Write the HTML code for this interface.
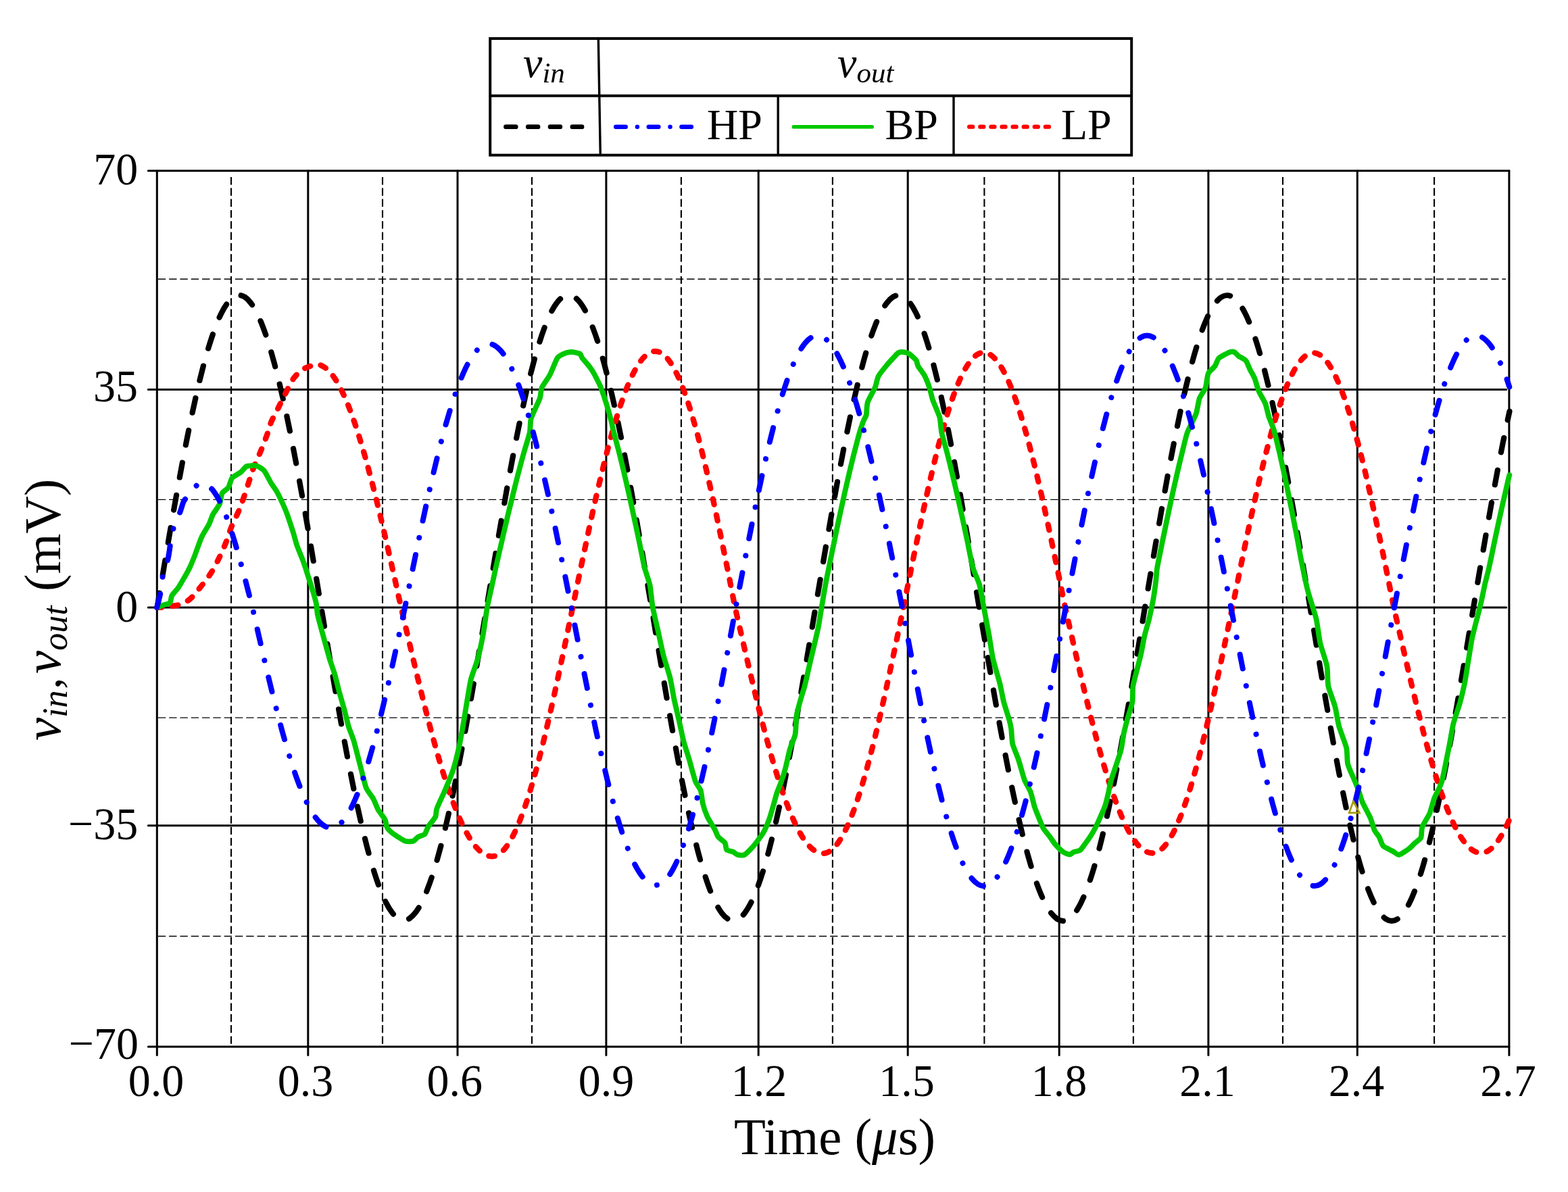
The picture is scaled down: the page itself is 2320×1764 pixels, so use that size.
<!DOCTYPE html>
<html lang="en"><head><meta charset="utf-8"><title>Filter transient response</title>
<style>html,body{margin:0;padding:0;background:#fff}body{width:2320px;height:1764px;overflow:hidden}svg{display:block}text{font-family:'Liberation Serif', 'DejaVu Serif', serif;fill:#000}</style>
</head><body>
<svg width="2320" height="1764" viewBox="0 0 2320 1764">
<rect width="2320" height="1764" fill="#fff"/>
<g stroke="#000" fill="none">
<line x1="342.0" y1="262.0" x2="342.0" y2="1547.9" stroke-width="2.1" stroke-dasharray="11.4 4.9"/>
<line x1="566.0" y1="262.0" x2="566.0" y2="1547.9" stroke-width="2.1" stroke-dasharray="11.4 4.9"/>
<line x1="787.0" y1="262.0" x2="787.0" y2="1547.9" stroke-width="2.1" stroke-dasharray="11.4 4.9"/>
<line x1="1007.9" y1="262.0" x2="1007.9" y2="1547.9" stroke-width="2.1" stroke-dasharray="11.4 4.9"/>
<line x1="1231.9" y1="262.0" x2="1231.9" y2="1547.9" stroke-width="2.1" stroke-dasharray="11.4 4.9"/>
<line x1="1456.4" y1="262.0" x2="1456.4" y2="1547.9" stroke-width="2.1" stroke-dasharray="11.4 4.9"/>
<line x1="1676.9" y1="262.0" x2="1676.9" y2="1547.9" stroke-width="2.1" stroke-dasharray="11.4 4.9"/>
<line x1="1898.0" y1="262.0" x2="1898.0" y2="1547.9" stroke-width="2.1" stroke-dasharray="11.4 4.9"/>
<line x1="2122.1" y1="262.0" x2="2122.1" y2="1547.9" stroke-width="2.1" stroke-dasharray="11.4 4.9"/>
<line x1="233.8" y1="413.0" x2="2228.0" y2="413.0" stroke-width="1.3" stroke-dasharray="11.4 4.9"/>
<line x1="233.8" y1="739.4" x2="2228.0" y2="739.4" stroke-width="1.3" stroke-dasharray="11.4 4.9"/>
<line x1="233.8" y1="1062.1" x2="2228.0" y2="1062.1" stroke-width="1.3" stroke-dasharray="11.4 4.9"/>
<line x1="233.8" y1="1385.5" x2="2228.0" y2="1385.5" stroke-width="1.3" stroke-dasharray="11.4 4.9"/>
<line x1="232.3" y1="252.7" x2="232.3" y2="1561.5" stroke-width="3" stroke-linecap="round"/>
<line x1="455.8" y1="252.7" x2="455.8" y2="1561.5" stroke-width="3" stroke-linecap="round"/>
<line x1="677.0" y1="252.7" x2="677.0" y2="1561.5" stroke-width="3" stroke-linecap="round"/>
<line x1="896.9" y1="252.7" x2="896.9" y2="1561.5" stroke-width="3" stroke-linecap="round"/>
<line x1="1122.2" y1="252.7" x2="1122.2" y2="1561.5" stroke-width="3" stroke-linecap="round"/>
<line x1="1343.2" y1="252.7" x2="1343.2" y2="1561.5" stroke-width="3" stroke-linecap="round"/>
<line x1="1567.2" y1="252.7" x2="1567.2" y2="1561.5" stroke-width="3" stroke-linecap="round"/>
<line x1="1787.9" y1="252.7" x2="1787.9" y2="1561.5" stroke-width="3" stroke-linecap="round"/>
<line x1="2008.3" y1="252.7" x2="2008.3" y2="1561.5" stroke-width="3" stroke-linecap="round"/>
<line x1="2232.9" y1="252.7" x2="2232.9" y2="1561.5" stroke-width="3" stroke-linecap="round"/>
<line x1="219.3" y1="252.7" x2="2232.9" y2="252.7" stroke-width="3" stroke-linecap="round"/>
<line x1="219.3" y1="576.4" x2="2228.7" y2="576.4" stroke-width="3" stroke-linecap="round"/>
<line x1="219.3" y1="899.0" x2="2228.7" y2="899.0" stroke-width="3" stroke-linecap="round"/>
<line x1="219.3" y1="1221.8" x2="2228.7" y2="1221.8" stroke-width="3" stroke-linecap="round"/>
<line x1="219.3" y1="1548.9" x2="2232.9" y2="1548.9" stroke-width="3" stroke-linecap="round"/>
</g>
<defs><clipPath id="cp"><rect x="225" y="240" width="2020" height="1320"/></clipPath></defs>
<g fill="none" stroke-linecap="round" stroke-linejoin="round" clip-path="url(#cp)">
<path d="M232.6 899.0C234.0 890.4 238.4 864.4 241.3 847.3C244.2 830.1 247.0 813.0 249.9 796.2C252.8 779.4 255.7 762.7 258.6 746.4C261.5 730.1 264.4 714.0 267.3 698.5C270.1 683.0 273.0 667.8 275.9 653.1C278.8 638.5 281.7 624.4 284.6 610.9C287.5 597.4 290.4 584.4 293.2 572.2C296.1 560.1 299.0 548.5 301.9 537.7C304.8 527.0 307.7 516.9 310.6 507.7C313.5 498.6 316.4 490.1 319.2 482.7C322.1 475.2 325.0 468.5 327.9 462.8C330.8 457.1 333.7 452.3 336.6 448.5C339.5 444.6 342.3 441.7 345.2 439.8C348.1 437.9 351.0 436.9 353.9 436.9C356.8 436.9 359.7 437.9 362.6 439.8C365.5 441.7 368.4 444.6 371.2 448.5C374.1 452.3 377.0 457.1 379.9 462.8C382.8 468.5 385.7 475.2 388.6 482.7C391.5 490.1 394.4 498.6 397.3 507.7C400.1 516.9 403.0 527.0 405.9 537.7C408.8 548.5 411.7 560.1 414.6 572.2C417.5 584.4 420.4 597.4 423.3 610.9C426.2 624.4 429.1 638.5 431.9 653.1C434.8 667.8 437.7 683.0 440.6 698.5C443.5 714.0 446.4 730.1 449.3 746.4C452.2 762.7 455.1 779.4 458.0 796.2C460.8 813.0 463.7 830.1 466.6 847.3C469.5 864.4 472.4 881.7 475.3 899.0C478.2 916.3 481.1 933.7 484.0 950.8C486.9 968.0 489.8 985.2 492.7 1002.0C495.6 1018.8 498.6 1035.6 501.5 1051.9C504.4 1068.2 507.3 1084.3 510.2 1099.8C513.1 1115.4 516.0 1130.6 518.9 1145.3C521.8 1159.9 524.7 1174.1 527.6 1187.6C530.5 1201.1 533.4 1214.1 536.4 1226.3C539.3 1238.5 542.2 1250.1 545.1 1260.9C548.0 1271.7 550.9 1281.8 553.8 1290.9C556.7 1300.1 559.6 1308.6 562.5 1316.1C565.4 1323.6 568.3 1330.2 571.2 1335.9C574.1 1341.6 577.0 1346.4 580.0 1350.3C582.9 1354.1 585.8 1357.1 588.7 1359.0C591.6 1360.9 594.5 1361.9 597.4 1361.9C600.3 1361.9 603.2 1360.9 606.2 1359.0C609.1 1357.1 612.0 1354.1 614.9 1350.3C617.8 1346.4 620.8 1341.6 623.7 1335.9C626.6 1330.2 629.5 1323.6 632.4 1316.1C635.3 1308.6 638.3 1300.1 641.2 1290.9C644.1 1281.8 647.0 1271.7 649.9 1260.9C652.9 1250.1 655.8 1238.5 658.7 1226.3C661.6 1214.1 664.5 1201.1 667.5 1187.6C670.4 1174.1 673.3 1159.9 676.2 1145.3C679.1 1130.6 682.1 1115.4 685.0 1099.8C687.9 1084.3 690.8 1068.2 693.7 1051.9C696.6 1035.6 699.6 1018.8 702.5 1002.0C705.4 985.2 708.3 968.0 711.2 950.8C714.2 933.7 717.1 916.3 720.0 899.0C722.9 881.7 725.8 864.4 728.6 847.2C731.5 830.1 734.4 812.9 737.3 796.1C740.2 779.3 743.1 762.6 746.0 746.3C748.8 730.0 751.7 714.0 754.6 698.4C757.5 682.9 760.4 667.7 763.2 653.0C766.1 638.4 769.0 624.3 771.9 610.8C774.8 597.3 777.7 584.3 780.5 572.1C783.4 559.9 786.3 548.3 789.2 537.6C792.1 526.8 795.0 516.7 797.9 507.6C800.7 498.4 803.6 490.0 806.5 482.5C809.4 475.0 812.3 468.3 815.1 462.6C818.0 456.9 820.9 452.1 823.8 448.3C826.7 444.5 829.6 441.5 832.5 439.6C835.3 437.7 838.2 436.7 841.1 436.7C844.0 436.7 847.0 437.7 849.9 439.6C852.8 441.5 855.7 444.5 858.7 448.3C861.6 452.1 864.5 456.9 867.4 462.6C870.4 468.3 873.3 475.0 876.2 482.5C879.1 490.0 882.1 498.4 885.0 507.6C887.9 516.7 890.8 526.8 893.8 537.6C896.7 548.3 899.6 559.9 902.5 572.1C905.5 584.3 908.4 597.3 911.3 610.8C914.3 624.3 917.2 638.4 920.1 653.0C923.0 667.7 926.0 682.9 928.9 698.4C931.8 714.0 934.7 730.0 937.7 746.3C940.6 762.6 943.5 779.3 946.4 796.1C949.4 812.9 952.3 830.1 955.2 847.2C958.1 864.4 961.1 881.7 964.0 899.0C966.9 916.3 969.8 933.7 972.6 950.9C975.5 968.1 978.4 985.2 981.3 1002.1C984.1 1019.0 987.0 1035.7 989.9 1052.0C992.8 1068.3 995.6 1084.4 998.5 1100.0C1001.4 1115.6 1004.3 1130.8 1007.1 1145.5C1010.0 1160.1 1012.9 1174.3 1015.8 1187.9C1018.6 1201.4 1021.5 1214.4 1024.4 1226.6C1027.3 1238.8 1030.2 1250.4 1033.0 1261.2C1035.9 1272.0 1038.8 1282.1 1041.7 1291.3C1044.5 1300.5 1047.4 1308.9 1050.3 1316.4C1053.2 1323.9 1056.0 1330.6 1058.9 1336.3C1061.8 1342.0 1064.7 1346.8 1067.5 1350.7C1070.4 1354.5 1073.3 1357.5 1076.2 1359.4C1079.0 1361.3 1081.9 1362.3 1084.8 1362.3C1087.7 1362.3 1090.6 1361.3 1093.5 1359.4C1096.4 1357.5 1099.3 1354.5 1102.2 1350.7C1105.1 1346.8 1108.0 1342.0 1110.9 1336.3C1113.8 1330.6 1116.7 1323.9 1119.6 1316.4C1122.5 1308.9 1125.4 1300.5 1128.3 1291.3C1131.2 1282.1 1134.1 1272.0 1137.0 1261.2C1139.9 1250.4 1142.8 1238.8 1145.7 1226.6C1148.6 1214.4 1151.5 1201.4 1154.4 1187.9C1157.3 1174.3 1160.2 1160.1 1163.1 1145.5C1166.0 1130.8 1168.9 1115.6 1171.8 1100.0C1174.7 1084.4 1177.6 1068.3 1180.5 1052.0C1183.4 1035.7 1186.3 1019.0 1189.2 1002.1C1192.1 985.2 1195.0 968.1 1197.9 950.9C1200.8 933.7 1203.7 916.3 1206.6 899.0C1209.5 881.7 1212.5 864.4 1215.4 847.3C1218.3 830.1 1221.2 813.0 1224.2 796.2C1227.1 779.4 1230.0 762.7 1233.0 746.4C1235.9 730.1 1238.8 714.0 1241.7 698.5C1244.7 683.0 1247.6 667.8 1250.5 653.1C1253.5 638.5 1256.4 624.4 1259.3 610.9C1262.2 597.4 1265.2 584.4 1268.1 572.2C1271.0 560.1 1274.0 548.5 1276.9 537.7C1279.8 527.0 1282.7 516.9 1285.7 507.7C1288.6 498.6 1291.5 490.1 1294.5 482.7C1297.4 475.2 1300.3 468.5 1303.2 462.8C1306.2 457.1 1309.1 452.3 1312.0 448.5C1315.0 444.6 1317.9 441.7 1320.8 439.8C1323.7 437.9 1326.7 436.9 1329.6 436.9C1332.5 436.9 1335.3 437.9 1338.1 439.8C1341.0 441.7 1343.8 444.6 1346.6 448.5C1349.5 452.3 1352.3 457.1 1355.1 462.8C1358.0 468.5 1360.8 475.2 1363.7 482.7C1366.5 490.1 1369.3 498.6 1372.2 507.7C1375.0 516.9 1377.8 527.0 1380.7 537.7C1383.5 548.5 1386.4 560.1 1389.2 572.2C1392.0 584.4 1394.9 597.4 1397.7 610.9C1400.6 624.4 1403.4 638.5 1406.2 653.1C1409.1 667.8 1411.9 683.0 1414.7 698.5C1417.6 714.0 1420.4 730.1 1423.3 746.4C1426.1 762.7 1428.9 779.4 1431.8 796.2C1434.6 813.0 1437.4 830.1 1440.3 847.3C1443.1 864.4 1445.9 881.7 1448.8 899.0C1451.7 916.3 1454.7 933.7 1457.7 950.9C1460.6 968.1 1463.6 985.3 1466.6 1002.2C1469.5 1019.1 1472.5 1035.9 1475.4 1052.2C1478.4 1068.6 1481.4 1084.7 1484.3 1100.3C1487.3 1115.9 1490.2 1131.1 1493.2 1145.8C1496.2 1160.5 1499.1 1174.7 1502.1 1188.2C1505.0 1201.8 1508.0 1214.8 1510.9 1227.0C1513.9 1239.3 1516.9 1250.9 1519.8 1261.7C1522.8 1272.5 1525.7 1282.6 1528.7 1291.8C1531.7 1301.0 1534.6 1309.4 1537.6 1317.0C1540.5 1324.5 1543.5 1331.1 1546.5 1336.9C1549.4 1342.6 1552.4 1347.4 1555.3 1351.3C1558.3 1355.1 1561.3 1358.0 1564.2 1360.0C1567.2 1361.9 1570.2 1362.9 1573.1 1362.9C1576.0 1362.9 1578.9 1361.9 1581.7 1360.0C1584.6 1358.0 1587.5 1355.1 1590.4 1351.3C1593.2 1347.4 1596.1 1342.6 1599.0 1336.9C1601.9 1331.1 1604.8 1324.5 1607.6 1317.0C1610.5 1309.4 1613.4 1301.0 1616.3 1291.8C1619.2 1282.6 1622.0 1272.5 1624.9 1261.7C1627.8 1250.9 1630.7 1239.3 1633.5 1227.0C1636.4 1214.8 1639.3 1201.8 1642.2 1188.2C1645.1 1174.7 1647.9 1160.5 1650.8 1145.8C1653.7 1131.1 1656.6 1115.9 1659.5 1100.3C1662.3 1084.7 1665.2 1068.6 1668.1 1052.2C1671.0 1035.9 1673.9 1019.1 1676.7 1002.2C1679.6 985.3 1682.5 968.1 1685.4 950.9C1688.2 933.7 1691.1 916.3 1694.0 899.0C1696.9 881.7 1699.8 864.4 1702.7 847.3C1705.6 830.1 1708.5 813.0 1711.4 796.2C1714.3 779.4 1717.2 762.7 1720.1 746.4C1723.0 730.1 1725.8 714.1 1728.7 698.5C1731.6 683.0 1734.5 667.8 1737.4 653.2C1740.3 638.6 1743.2 624.4 1746.1 610.9C1749.0 597.5 1751.9 584.5 1754.8 572.3C1757.7 560.1 1760.6 548.5 1763.5 537.8C1766.4 527.0 1769.3 517.0 1772.2 507.8C1775.1 498.6 1778.0 490.2 1780.9 482.8C1783.8 475.3 1786.6 468.6 1789.5 462.9C1792.4 457.2 1795.3 452.4 1798.2 448.6C1801.1 444.7 1804.0 441.8 1806.9 439.9C1809.8 438.0 1812.7 437.0 1815.6 437.0C1818.5 437.0 1821.5 438.0 1824.4 439.9C1827.3 441.8 1830.2 444.7 1833.2 448.6C1836.1 452.4 1839.0 457.2 1841.9 462.9C1844.9 468.6 1847.8 475.3 1850.7 482.8C1853.6 490.2 1856.6 498.6 1859.5 507.8C1862.4 517.0 1865.3 527.0 1868.3 537.8C1871.2 548.5 1874.1 560.1 1877.0 572.3C1880.0 584.5 1882.9 597.5 1885.8 610.9C1888.8 624.4 1891.7 638.6 1894.6 653.2C1897.5 667.8 1900.5 683.0 1903.4 698.5C1906.3 714.1 1909.2 730.1 1912.2 746.4C1915.1 762.7 1918.0 779.4 1920.9 796.2C1923.9 813.0 1926.8 830.1 1929.7 847.3C1932.6 864.4 1935.6 881.7 1938.5 899.0C1941.4 916.3 1944.2 933.7 1947.1 950.9C1950.0 968.1 1952.9 985.3 1955.7 1002.2C1958.6 1019.1 1961.5 1035.9 1964.4 1052.2C1967.2 1068.6 1970.1 1084.7 1973.0 1100.3C1975.9 1115.9 1978.7 1131.1 1981.6 1145.8C1984.5 1160.5 1987.4 1174.7 1990.2 1188.2C1993.1 1201.8 1996.0 1214.8 1998.8 1227.0C2001.7 1239.3 2004.6 1250.9 2007.5 1261.7C2010.3 1272.5 2013.2 1282.6 2016.1 1291.8C2019.0 1301.0 2021.8 1309.4 2024.7 1317.0C2027.6 1324.5 2030.5 1331.1 2033.3 1336.9C2036.2 1342.6 2039.1 1347.4 2042.0 1351.3C2044.8 1355.1 2047.7 1358.0 2050.6 1360.0C2053.5 1361.9 2056.3 1362.9 2059.2 1362.9C2062.1 1362.9 2065.0 1361.9 2067.8 1360.0C2070.7 1358.0 2073.6 1355.1 2076.5 1351.3C2079.3 1347.4 2082.2 1342.6 2085.1 1336.9C2088.0 1331.1 2090.9 1324.5 2093.7 1317.0C2096.6 1309.4 2099.5 1301.0 2102.4 1291.8C2105.3 1282.6 2108.1 1272.5 2111.0 1261.7C2113.9 1250.9 2116.8 1239.3 2119.6 1227.0C2122.5 1214.8 2125.4 1201.8 2128.3 1188.2C2131.2 1174.7 2134.0 1160.5 2136.9 1145.8C2139.8 1131.1 2142.7 1115.9 2145.6 1100.3C2148.4 1084.7 2151.3 1068.6 2154.2 1052.2C2157.1 1035.9 2159.9 1019.1 2162.8 1002.2C2165.7 985.3 2168.6 968.1 2171.5 950.9C2174.3 933.7 2177.2 916.2 2180.1 899.0C2183.0 881.8 2185.9 864.6 2188.8 847.6C2191.8 830.6 2194.7 813.6 2197.6 796.9C2200.5 780.2 2203.4 763.6 2206.3 747.4C2209.3 731.2 2212.2 715.3 2215.1 699.8C2218.0 684.4 2220.9 669.3 2223.8 654.8C2226.8 640.3 2231.0 620.3 2232.6 612.8C2234.2 605.3 2233.2 610.3 2233.3 609.7" stroke="#000" stroke-width="8.2" stroke-dasharray="22 26.89" stroke-dashoffset="0.35"/>
<path d="M232.2 898.8C233.4 898.8 236.0 899.0 239.3 898.8C242.6 898.5 247.9 897.8 252.1 897.2C256.4 896.5 260.2 896.7 265.0 894.9C269.8 893.1 275.7 891.0 281.1 886.5C286.4 882.1 291.9 874.8 297.1 868.2C302.4 861.7 307.9 854.8 312.6 847.3C317.3 839.8 321.7 831.0 325.4 823.2C329.2 815.5 332.2 808.1 335.1 800.7C338.0 793.3 339.7 786.4 342.8 778.9C345.8 771.4 350.4 762.9 353.4 755.7C356.4 748.5 358.3 743.0 360.8 735.8C363.3 728.6 366.3 719.2 368.5 712.3C370.8 705.5 371.4 702.1 374.3 694.6C377.2 687.1 382.4 675.9 385.9 667.3C389.3 658.8 392.6 650.3 395.2 643.2C397.7 636.1 398.4 631.3 401.2 624.7C403.9 618.1 407.8 611.4 411.8 603.5C415.7 595.7 420.8 585.1 424.7 577.6C428.6 570.2 431.2 564.1 435.3 558.8C439.4 553.5 443.9 549.1 449.4 545.9C454.9 542.7 463.7 540.3 468.4 539.6C473.1 538.9 474.4 540.4 477.3 541.9C480.3 543.4 483.3 545.6 486.3 548.6C489.2 551.6 492.2 555.3 495.2 559.8C498.2 564.2 501.2 569.4 504.1 575.2C507.1 581.0 510.1 587.6 513.1 594.7C516.1 601.8 519.0 609.6 522.0 618.0C525.0 626.4 528.0 635.4 531.0 644.9C533.9 654.4 536.9 664.4 539.9 674.9C542.9 685.4 545.8 696.4 548.8 707.8C551.8 719.1 554.8 731.0 557.8 743.1C560.7 755.1 563.7 767.6 566.7 780.3C569.7 793.0 572.6 805.9 575.6 819.0C578.6 832.1 581.6 845.4 584.6 858.8C587.5 872.1 590.4 885.4 593.5 899.0C596.6 912.6 599.9 926.6 603.1 940.2C606.3 953.9 609.5 967.6 612.7 981.0C615.9 994.4 619.1 1007.7 622.3 1020.6C625.5 1033.6 628.7 1046.4 631.9 1058.8C635.1 1071.2 638.3 1083.3 641.5 1094.9C644.7 1106.6 647.9 1117.9 651.1 1128.6C654.3 1139.4 657.5 1149.7 660.7 1159.4C663.9 1169.1 667.1 1178.4 670.3 1186.9C673.5 1195.5 676.7 1203.5 679.9 1210.8C683.1 1218.2 686.3 1224.9 689.5 1230.8C692.7 1236.8 695.9 1242.1 699.1 1246.6C702.3 1251.2 705.5 1255.0 708.7 1258.1C711.9 1261.1 715.1 1263.4 718.3 1265.0C721.5 1266.5 724.9 1267.3 727.9 1267.3C730.9 1267.3 733.6 1266.5 736.4 1265.0C739.3 1263.4 742.1 1261.1 745.0 1258.1C747.8 1255.0 750.6 1251.2 753.5 1246.6C756.3 1242.1 759.2 1236.8 762.0 1230.8C764.9 1224.9 767.7 1218.2 770.5 1210.8C773.4 1203.5 776.2 1195.5 779.1 1186.9C781.9 1178.4 784.8 1169.1 787.6 1159.4C790.4 1149.7 793.3 1139.4 796.1 1128.6C799.0 1117.9 801.8 1106.6 804.7 1094.9C807.5 1083.3 810.3 1071.2 813.2 1058.8C816.0 1046.4 818.9 1033.6 821.7 1020.6C824.6 1007.7 827.4 994.4 830.2 981.0C833.1 967.6 835.9 953.9 838.8 940.2C841.6 926.6 844.4 912.9 847.3 899.0C850.2 885.1 853.1 870.6 856.0 856.5C858.9 842.5 861.9 828.4 864.8 814.6C867.7 800.8 870.6 787.1 873.5 773.8C876.4 760.4 879.3 747.2 882.2 734.5C885.2 721.7 888.1 709.2 891.0 697.3C893.9 685.3 896.8 673.6 899.7 662.6C902.6 651.5 905.5 640.9 908.5 630.9C911.4 620.9 914.3 611.4 917.2 602.5C920.1 593.7 923.0 585.5 925.9 577.9C928.8 570.4 931.7 563.5 934.7 557.4C937.6 551.2 940.5 545.8 943.4 541.1C946.3 536.4 949.2 532.5 952.1 529.3C955.0 526.2 958.0 523.8 960.9 522.2C963.8 520.6 966.7 519.8 969.6 519.8C972.5 519.8 975.2 520.6 978.0 522.2C980.8 523.8 983.7 526.2 986.5 529.3C989.3 532.5 992.1 536.4 994.9 541.1C997.7 545.8 1000.5 551.2 1003.3 557.4C1006.2 563.5 1009.0 570.4 1011.8 577.9C1014.6 585.5 1017.4 593.7 1020.2 602.5C1023.0 611.4 1025.8 620.9 1028.7 630.9C1031.5 640.9 1034.3 651.5 1037.1 662.6C1039.9 673.6 1042.7 685.3 1045.5 697.3C1048.3 709.2 1051.1 721.7 1054.0 734.5C1056.8 747.2 1059.6 760.4 1062.4 773.8C1065.2 787.1 1068.0 800.8 1070.8 814.6C1073.6 828.4 1076.5 842.5 1079.3 856.5C1082.1 870.6 1084.7 885.1 1087.7 899.0C1090.7 912.9 1093.9 926.2 1097.0 939.7C1100.1 953.2 1103.2 966.7 1106.3 980.0C1109.4 993.2 1112.5 1006.4 1115.6 1019.2C1118.7 1032.0 1121.7 1044.7 1124.8 1056.9C1127.9 1069.1 1131.0 1081.1 1134.1 1092.6C1137.2 1104.1 1140.3 1115.3 1143.4 1125.9C1146.5 1136.5 1149.6 1146.7 1152.7 1156.3C1155.8 1165.9 1158.9 1175.0 1162.0 1183.5C1165.1 1192.0 1168.2 1199.9 1171.3 1207.1C1174.4 1214.3 1177.5 1221.0 1180.6 1226.9C1183.7 1232.8 1186.7 1238.0 1189.8 1242.5C1192.9 1247.0 1196.0 1250.8 1199.1 1253.8C1202.2 1256.8 1205.3 1259.1 1208.4 1260.6C1211.5 1262.1 1214.7 1262.9 1217.7 1262.9C1220.7 1262.9 1223.4 1262.1 1226.2 1260.6C1229.0 1259.1 1231.9 1256.8 1234.7 1253.8C1237.5 1250.8 1240.4 1247.0 1243.2 1242.5C1246.0 1238.0 1248.9 1232.8 1251.7 1226.9C1254.5 1221.0 1257.4 1214.3 1260.2 1207.1C1263.0 1199.9 1265.9 1192.0 1268.7 1183.5C1271.5 1175.0 1274.4 1165.9 1277.2 1156.3C1280.0 1146.7 1282.9 1136.5 1285.7 1125.9C1288.5 1115.3 1291.4 1104.1 1294.2 1092.6C1297.0 1081.1 1299.9 1069.1 1302.7 1056.9C1305.5 1044.7 1308.4 1032.0 1311.2 1019.2C1314.0 1006.4 1316.9 993.2 1319.7 980.0C1322.5 966.7 1325.4 953.2 1328.2 939.7C1331.0 926.2 1333.9 912.8 1336.7 899.0C1339.5 885.2 1342.3 870.7 1345.2 856.8C1348.0 842.8 1350.8 828.8 1353.6 815.0C1356.5 801.3 1359.3 787.7 1362.1 774.4C1364.9 761.1 1367.8 748.0 1370.6 735.3C1373.4 722.6 1376.2 710.2 1379.1 698.3C1381.9 686.3 1384.7 674.8 1387.5 663.8C1390.4 652.7 1393.2 642.2 1396.0 632.2C1398.8 622.3 1401.6 612.8 1404.5 604.0C1407.3 595.2 1410.1 587.0 1412.9 579.5C1415.8 572.0 1418.6 565.2 1421.4 559.1C1424.2 553.0 1427.1 547.5 1429.9 542.9C1432.7 538.2 1435.5 534.3 1438.4 531.2C1441.2 528.0 1444.0 525.6 1446.8 524.1C1449.7 522.5 1452.5 521.7 1455.3 521.7C1458.1 521.7 1461.1 522.5 1463.9 524.1C1466.8 525.6 1469.7 528.0 1472.6 531.2C1475.4 534.3 1478.3 538.2 1481.2 542.9C1484.1 547.5 1486.9 553.0 1489.8 559.1C1492.7 565.2 1495.6 572.0 1498.4 579.5C1501.3 587.0 1504.2 595.2 1507.1 604.0C1509.9 612.8 1512.8 622.3 1515.7 632.2C1518.6 642.2 1521.5 652.7 1524.3 663.8C1527.2 674.8 1530.1 686.3 1533.0 698.3C1535.8 710.2 1538.7 722.6 1541.6 735.3C1544.5 748.0 1547.3 761.1 1550.2 774.4C1553.1 787.7 1556.0 801.3 1558.8 815.0C1561.7 828.8 1564.6 842.8 1567.5 856.8C1570.3 870.7 1573.1 885.2 1576.1 899.0C1579.1 912.8 1582.2 926.2 1585.3 939.7C1588.4 953.2 1591.4 966.7 1594.5 979.9C1597.6 993.1 1600.7 1006.3 1603.7 1019.1C1606.8 1031.9 1609.9 1044.5 1612.9 1056.7C1616.0 1068.9 1619.1 1080.9 1622.1 1092.4C1625.2 1103.9 1628.3 1115.0 1631.3 1125.6C1634.4 1136.2 1637.5 1146.4 1640.5 1156.0C1643.6 1165.6 1646.7 1174.7 1649.8 1183.2C1652.8 1191.7 1655.9 1199.6 1659.0 1206.8C1662.0 1214.0 1665.1 1220.6 1668.2 1226.5C1671.2 1232.4 1674.3 1237.6 1677.4 1242.1C1680.4 1246.6 1683.5 1250.4 1686.6 1253.4C1689.7 1256.4 1692.7 1258.7 1695.8 1260.2C1698.9 1261.7 1702.1 1262.5 1705.0 1262.5C1707.9 1262.5 1710.6 1261.7 1713.5 1260.2C1716.3 1258.7 1719.1 1256.4 1721.9 1253.4C1724.7 1250.4 1727.6 1246.6 1730.4 1242.1C1733.2 1237.6 1736.0 1232.4 1738.8 1226.5C1741.6 1220.6 1744.5 1214.0 1747.3 1206.8C1750.1 1199.6 1752.9 1191.7 1755.7 1183.2C1758.6 1174.7 1761.4 1165.6 1764.2 1156.0C1767.0 1146.4 1769.8 1136.2 1772.7 1125.6C1775.5 1115.0 1778.3 1103.9 1781.1 1092.4C1783.9 1080.9 1786.8 1068.9 1789.6 1056.7C1792.4 1044.5 1795.2 1031.9 1798.0 1019.1C1800.8 1006.3 1803.7 993.1 1806.5 979.9C1809.3 966.7 1812.1 953.2 1814.9 939.7C1817.8 926.2 1820.6 912.8 1823.4 899.0C1826.2 885.2 1829.1 870.8 1832.0 856.8C1834.8 842.8 1837.7 828.9 1840.5 815.2C1843.4 801.4 1846.2 787.8 1849.1 774.6C1851.9 761.3 1854.8 748.2 1857.7 735.5C1860.5 722.8 1863.4 710.4 1866.2 698.5C1869.1 686.6 1871.9 675.1 1874.8 664.1C1877.6 653.1 1880.5 642.5 1883.3 632.6C1886.2 622.6 1889.1 613.2 1891.9 604.4C1894.8 595.6 1897.6 587.4 1900.5 580.0C1903.3 572.5 1906.2 565.6 1909.0 559.5C1911.9 553.4 1914.8 548.0 1917.6 543.3C1920.5 538.7 1923.3 534.8 1926.2 531.6C1929.0 528.5 1931.9 526.1 1934.7 524.6C1937.6 523.0 1940.5 522.2 1943.3 522.2C1946.1 522.2 1949.0 523.0 1951.8 524.6C1954.6 526.1 1957.5 528.5 1960.3 531.6C1963.1 534.8 1966.0 538.7 1968.8 543.3C1971.7 548.0 1974.5 553.4 1977.3 559.5C1980.2 565.6 1983.0 572.5 1985.8 580.0C1988.7 587.4 1991.5 595.6 1994.3 604.4C1997.2 613.2 2000.0 622.6 2002.8 632.6C2005.7 642.5 2008.5 653.1 2011.4 664.1C2014.2 675.1 2017.0 686.6 2019.9 698.5C2022.7 710.4 2025.5 722.8 2028.4 735.5C2031.2 748.2 2034.0 761.3 2036.9 774.6C2039.7 787.8 2042.5 801.4 2045.4 815.2C2048.2 828.9 2051.1 842.8 2053.9 856.8C2056.7 870.8 2059.4 885.2 2062.4 899.0C2065.4 912.8 2068.5 926.2 2071.6 939.7C2074.7 953.2 2077.7 966.6 2080.8 979.8C2083.9 993.1 2086.9 1006.2 2090.0 1019.0C2093.1 1031.8 2096.1 1044.4 2099.2 1056.6C2102.3 1068.8 2105.3 1080.8 2108.4 1092.3C2111.5 1103.8 2114.5 1114.9 2117.6 1125.5C2120.7 1136.1 2123.7 1146.3 2126.8 1155.9C2129.9 1165.5 2132.9 1174.6 2136.0 1183.0C2139.1 1191.5 2142.1 1199.4 2145.2 1206.6C2148.3 1213.8 2151.3 1220.4 2154.4 1226.3C2157.5 1232.2 2160.5 1237.4 2163.6 1241.9C2166.7 1246.4 2169.7 1250.2 2172.8 1253.2C2175.9 1256.2 2178.9 1258.5 2182.0 1260.0C2185.1 1261.5 2188.2 1262.3 2191.2 1262.3C2194.2 1262.3 2197.2 1261.5 2200.2 1260.0C2203.2 1258.5 2206.2 1256.2 2209.2 1253.2C2212.2 1250.2 2215.1 1246.4 2218.1 1241.9C2221.1 1237.4 2224.6 1231.2 2227.1 1226.3C2229.6 1221.5 2232.3 1215.0 2233.3 1212.7" stroke="#ff0000" stroke-width="8.3" stroke-dasharray="8.6 15.771" stroke-dashoffset="1.5"/>
<path d="M233.6 898.6C234.3 898.3 238.9 896.4 240.7 895.7C242.5 895.1 250.1 893.6 251.4 892.1C252.8 890.7 253.1 883.6 254.3 881.4C255.5 879.2 261.8 872.6 263.6 870.0C265.4 867.4 270.4 858.7 272.1 855.7C273.9 852.7 279.1 843.3 280.7 840.0C282.3 836.7 286.6 826.1 287.9 822.9C289.1 819.6 292.4 810.1 293.6 807.1C294.7 804.1 297.7 796.0 299.3 792.9C300.9 789.7 307.7 778.9 309.3 775.7C310.9 772.6 313.4 764.4 315.0 761.4C316.6 758.4 323.6 748.9 325.0 745.7C326.4 742.6 327.3 732.4 328.6 730.0C329.9 727.6 336.4 723.7 337.9 721.4C339.4 719.1 341.7 709.4 343.6 707.1C345.4 704.9 354.3 700.3 356.4 698.6C358.6 696.9 362.7 690.9 365.0 690.0C367.3 689.1 376.7 688.6 379.3 689.3C381.9 689.9 388.6 693.9 390.7 696.4C392.9 698.9 398.9 711.2 400.7 714.3C402.6 717.4 407.6 724.1 409.3 727.1C411.0 730.1 416.3 740.9 417.9 744.3C419.4 747.7 423.4 757.1 425.0 761.4C426.6 765.7 432.1 782.6 433.6 787.1C435.0 791.7 437.9 803.0 439.3 807.1C440.7 811.3 446.1 823.9 447.9 828.6C449.6 833.3 454.9 849.4 456.4 854.3C458.0 859.1 462.4 873.3 463.6 877.1C464.7 881.0 467.2 889.6 467.9 892.9C468.5 896.1 469.0 905.3 470.0 910.0C471.0 914.7 476.0 933.0 477.8 939.5C479.6 946.1 486.0 969.4 487.8 975.4C489.6 981.3 494.3 994.5 495.7 999.3C497.1 1004.0 500.3 1018.0 501.7 1023.2C503.1 1028.3 508.3 1045.9 509.7 1051.0C511.1 1056.2 514.3 1070.3 515.7 1074.9C517.0 1079.5 521.7 1090.3 523.6 1096.8C525.5 1103.3 533.0 1133.1 534.8 1140.0C536.6 1146.9 540.0 1161.6 541.8 1165.9C543.6 1170.2 551.0 1179.5 552.7 1182.8C554.5 1186.1 558.0 1195.7 559.7 1198.7C561.4 1201.7 568.4 1210.1 569.7 1212.7C571.0 1215.3 571.5 1222.5 572.7 1224.6C573.9 1226.7 578.9 1231.6 581.6 1233.6C584.3 1235.6 596.6 1243.6 599.5 1244.7C602.5 1245.8 609.6 1245.3 611.5 1244.7C613.4 1244.1 616.8 1239.6 618.5 1238.6C620.1 1237.5 626.9 1236.1 628.4 1234.6C629.9 1233.1 631.8 1226.2 633.4 1223.6C635.0 1221.0 643.0 1211.4 644.3 1208.7C645.6 1206.0 644.9 1200.6 646.3 1196.7C647.7 1192.9 655.9 1175.5 658.3 1169.9C660.7 1164.2 668.2 1146.3 670.2 1140.0C672.3 1133.7 677.4 1113.3 678.9 1106.8C680.4 1100.3 683.7 1081.7 684.9 1074.9C686.1 1068.2 689.7 1046.1 690.8 1039.1C692.0 1032.1 695.2 1011.6 696.8 1005.2C698.4 998.9 705.0 981.9 706.8 975.4C708.6 968.8 713.3 947.1 714.7 939.5C716.1 932.0 719.5 906.5 720.7 899.7C721.9 893.0 725.4 877.8 726.7 871.9C728.0 865.9 732.1 847.1 733.6 840.0C735.2 832.9 741.1 806.9 742.6 800.6C744.0 794.2 747.0 781.5 748.1 776.8C749.2 772.0 752.5 758.1 753.6 753.5C754.8 748.9 758.1 735.3 759.2 730.8C760.3 726.3 763.6 713.2 764.7 708.9C765.8 704.5 769.1 691.9 770.2 687.7C771.3 683.6 774.4 672.3 775.8 667.5C777.1 662.7 782.8 644.8 783.8 640.0C784.8 635.2 784.3 624.5 785.8 619.4C787.3 614.4 797.1 594.1 798.7 589.6C800.3 585.0 800.2 577.1 801.7 573.6C803.2 570.1 811.4 559.1 813.6 554.7C815.9 550.3 822.6 532.9 824.6 529.8C826.6 526.7 831.8 524.7 833.6 523.8C835.3 523.0 841.0 521.3 842.5 521.1C844.0 520.8 846.9 520.8 848.5 521.1C850.1 521.3 857.2 523.0 858.4 523.8C859.7 524.7 860.0 527.9 861.4 529.8C862.8 531.7 870.6 540.4 872.4 542.8C874.2 545.2 877.8 550.8 879.4 553.7C880.9 556.6 886.9 568.4 888.3 571.6C889.7 574.8 892.2 582.3 893.3 585.6C894.4 588.9 898.2 600.8 899.3 604.5C900.4 608.2 903.3 618.9 904.2 622.4C905.1 626.0 907.1 635.5 908.2 640.0C909.3 644.5 914.3 662.7 915.5 667.5C916.7 672.3 919.5 683.6 920.5 687.7C921.5 691.9 924.5 704.5 925.5 708.9C926.5 713.2 929.5 726.3 930.5 730.8C931.5 735.3 934.5 748.9 935.5 753.5C936.5 758.1 939.5 772.0 940.5 776.8C941.5 781.5 944.2 794.2 945.6 800.6C946.9 806.9 952.1 833.5 953.7 840.0C955.3 846.5 960.4 860.1 961.6 865.9C962.8 871.7 964.4 891.0 965.6 897.7C966.8 904.5 972.0 926.4 973.6 933.6C975.2 940.7 979.7 962.4 981.5 969.4C983.3 976.4 989.9 996.7 991.5 1003.2C993.1 1009.8 996.2 1028.9 997.5 1035.1C998.8 1041.3 1003.0 1058.8 1004.4 1065.0C1005.8 1071.1 1009.9 1091.0 1011.4 1096.8C1012.9 1102.6 1017.6 1116.8 1019.4 1122.7C1021.1 1128.6 1027.1 1151.3 1028.8 1156.0C1030.5 1160.7 1035.7 1166.7 1036.8 1169.9C1037.9 1173.2 1038.8 1185.0 1039.8 1188.9C1040.7 1192.7 1044.9 1204.9 1046.7 1208.8C1048.5 1212.6 1056.1 1224.7 1057.7 1227.7C1059.3 1230.7 1061.2 1236.7 1062.7 1238.6C1064.1 1240.6 1071.4 1245.2 1072.6 1247.1C1073.9 1249.0 1073.9 1256.2 1075.1 1257.5C1076.3 1258.9 1082.9 1259.8 1084.6 1260.5C1086.2 1261.3 1089.8 1264.6 1091.5 1265.0C1093.2 1265.5 1099.2 1266.3 1101.5 1265.0C1103.8 1263.8 1112.1 1255.1 1114.4 1252.6C1116.7 1250.0 1122.7 1242.0 1124.4 1239.6C1126.1 1237.2 1129.9 1231.5 1131.3 1228.7C1132.7 1225.9 1137.0 1215.4 1138.3 1211.7C1139.6 1208.1 1143.2 1195.6 1144.3 1191.8C1145.4 1188.1 1148.1 1177.5 1149.3 1173.9C1150.5 1170.3 1154.9 1159.9 1156.2 1156.0C1157.6 1152.1 1161.5 1139.4 1162.7 1134.6C1163.9 1129.9 1167.3 1113.5 1168.7 1108.8C1170.1 1104.0 1175.6 1091.8 1176.6 1086.9C1177.6 1081.9 1177.8 1064.2 1178.6 1059.0C1179.4 1053.8 1183.4 1039.5 1184.6 1035.1C1185.8 1030.7 1189.4 1019.8 1190.6 1015.2C1191.8 1010.6 1195.2 995.3 1196.5 989.3C1197.9 983.3 1203.1 961.4 1204.5 955.5C1205.9 949.5 1209.3 935.8 1210.5 929.6C1211.7 923.4 1215.3 900.7 1216.5 893.8C1217.6 886.8 1221.4 865.3 1222.4 859.9C1223.4 854.5 1225.2 845.9 1226.4 840.0C1227.6 834.1 1233.1 807.1 1234.5 800.8C1235.8 794.5 1238.4 781.7 1239.4 777.0C1240.4 772.3 1243.4 758.4 1244.4 753.8C1245.4 749.2 1248.4 735.6 1249.4 731.2C1250.4 726.7 1253.4 713.6 1254.4 709.3C1255.4 705.0 1258.4 692.3 1259.4 688.2C1260.4 684.1 1263.1 672.9 1264.4 668.0C1265.6 663.2 1270.5 644.6 1271.8 640.0C1273.1 635.5 1276.8 625.0 1277.8 622.4C1278.8 619.8 1281.1 617.1 1281.7 614.4C1282.3 611.8 1282.4 599.6 1283.7 595.5C1285.0 591.4 1293.1 577.5 1294.7 573.6C1296.3 569.7 1297.9 560.1 1299.7 556.7C1301.5 553.3 1310.3 542.6 1312.6 539.8C1314.9 537.0 1320.9 530.6 1322.6 528.8C1324.3 527.0 1328.0 522.6 1329.5 521.9C1331.0 521.1 1335.9 520.9 1337.5 521.1C1339.1 521.3 1343.7 522.7 1345.5 523.8C1347.2 525.0 1354.1 531.0 1355.4 532.8C1356.7 534.6 1357.2 539.6 1358.4 541.8C1359.6 544.0 1366.0 552.3 1367.4 554.7C1368.8 557.1 1371.4 563.4 1372.3 565.7C1373.2 567.9 1375.5 574.9 1376.3 577.6C1377.1 580.3 1378.9 588.6 1380.3 592.5C1381.7 596.5 1389.0 612.7 1390.3 617.4C1391.6 622.2 1392.2 635.0 1393.2 640.0C1394.3 645.1 1399.5 663.2 1400.8 668.0C1402.1 672.9 1404.9 684.1 1405.9 688.2C1406.9 692.3 1409.9 705.0 1410.9 709.3C1412.0 713.6 1415.0 726.7 1416.0 731.2C1417.0 735.6 1420.1 749.2 1421.1 753.8C1422.1 758.4 1425.2 772.3 1426.2 777.0C1427.2 781.7 1429.9 794.5 1431.3 800.8C1432.6 807.1 1437.6 833.5 1439.5 840.0C1441.3 846.5 1447.8 860.1 1449.4 865.9C1451.0 871.7 1454.0 890.4 1455.4 897.7C1456.8 905.1 1461.9 931.8 1463.3 939.5C1464.7 947.3 1467.7 968.2 1469.3 975.4C1470.9 982.5 1477.7 1004.8 1479.3 1011.2C1480.9 1017.6 1483.8 1033.7 1485.2 1039.1C1486.6 1044.5 1492.1 1061.0 1493.2 1065.0C1494.3 1068.9 1495.7 1075.3 1496.2 1078.9C1496.7 1082.5 1497.1 1096.2 1498.2 1100.8C1499.3 1105.4 1505.4 1119.4 1507.1 1124.7C1508.9 1130.0 1514.0 1149.3 1515.8 1154.0C1517.6 1158.7 1523.3 1167.9 1524.8 1171.9C1526.3 1175.9 1529.5 1189.8 1530.7 1193.8C1532.0 1197.8 1536.4 1208.6 1537.7 1211.7C1539.0 1214.9 1542.1 1223.0 1543.7 1225.7C1545.3 1228.4 1551.9 1236.3 1553.6 1238.6C1555.3 1240.9 1558.7 1246.4 1560.6 1248.6C1562.5 1250.8 1570.4 1258.9 1572.6 1260.5C1574.7 1262.1 1580.9 1264.7 1582.5 1264.7C1584.1 1264.8 1586.9 1261.7 1588.5 1261.0C1590.1 1260.4 1596.6 1259.4 1598.4 1258.0C1600.2 1256.7 1604.9 1249.6 1606.4 1247.6C1607.9 1245.5 1612.0 1239.8 1613.4 1237.6C1614.8 1235.4 1618.9 1228.4 1620.3 1225.7C1621.7 1223.0 1625.8 1214.1 1627.3 1210.7C1628.8 1207.4 1634.0 1195.7 1635.3 1191.8C1636.6 1187.9 1639.4 1175.7 1640.3 1171.9C1641.1 1168.1 1642.4 1160.1 1644.2 1154.0C1646.1 1147.9 1656.6 1117.5 1658.4 1110.8C1660.3 1104.0 1661.4 1091.6 1662.4 1086.9C1663.4 1082.1 1667.1 1067.8 1668.4 1063.0C1669.7 1058.2 1674.6 1043.9 1675.4 1039.1C1676.2 1034.3 1675.7 1020.0 1676.4 1015.2C1677.1 1010.4 1681.1 996.1 1682.3 991.3C1683.5 986.5 1687.2 972.4 1688.3 967.4C1689.4 962.4 1692.1 946.7 1693.3 941.5C1694.5 936.4 1699.0 921.0 1700.3 915.7C1701.5 910.3 1705.2 893.4 1706.2 887.8C1707.2 882.2 1709.6 864.7 1710.2 859.9C1710.8 855.1 1711.2 845.9 1712.2 840.0C1713.2 834.1 1718.8 807.4 1720.0 801.1C1721.3 794.9 1723.9 782.1 1724.9 777.4C1725.9 772.7 1728.8 758.8 1729.8 754.3C1730.8 749.7 1733.7 736.2 1734.7 731.7C1735.6 727.3 1738.6 714.2 1739.6 709.9C1740.5 705.6 1743.5 693.0 1744.4 688.9C1745.4 684.8 1748.1 673.7 1749.3 668.8C1750.5 663.9 1754.7 645.7 1756.8 640.0C1758.8 634.4 1767.9 617.5 1769.7 612.4C1771.5 607.4 1773.3 593.4 1774.7 589.6C1776.1 585.7 1782.4 577.3 1783.7 573.6C1785.0 569.9 1786.3 555.9 1787.7 552.7C1789.0 549.5 1796.0 544.1 1797.6 541.8C1799.2 539.5 1801.4 531.9 1803.6 529.8C1805.8 527.8 1817.2 521.9 1819.5 521.1C1821.8 520.2 1825.2 520.5 1826.5 521.1C1827.8 521.6 1830.8 525.6 1832.4 526.8C1834.1 528.1 1841.7 531.8 1843.4 533.8C1845.1 535.8 1848.1 544.2 1849.4 546.7C1850.7 549.3 1855.2 557.1 1856.3 559.7C1857.4 562.3 1859.6 570.5 1860.3 572.6C1861.0 574.7 1862.1 578.1 1863.3 580.6C1864.5 583.1 1870.9 593.9 1872.3 597.5C1873.7 601.1 1876.0 612.4 1877.2 616.4C1878.5 620.4 1883.7 632.1 1885.2 637.3C1886.8 642.6 1891.6 663.6 1892.9 668.8C1894.1 673.9 1896.5 684.8 1897.4 688.9C1898.3 693.0 1901.0 705.6 1902.0 709.9C1902.9 714.2 1905.6 727.3 1906.5 731.7C1907.4 736.2 1910.1 749.7 1911.1 754.3C1912.0 758.8 1914.7 772.7 1915.6 777.4C1916.5 782.1 1919.0 794.9 1920.2 801.1C1921.3 807.4 1925.9 832.5 1927.5 840.0C1929.0 847.5 1933.4 868.3 1935.4 875.8C1937.4 883.4 1945.6 908.1 1947.4 915.7C1949.2 923.2 1951.7 944.5 1953.3 951.5C1954.9 958.5 1962.1 979.0 1963.3 985.3C1964.5 991.7 1964.1 1009.2 1965.3 1015.2C1966.5 1021.2 1973.6 1039.1 1975.2 1045.1C1976.8 1051.0 1979.5 1068.7 1981.2 1074.9C1982.9 1081.1 1990.9 1101.2 1992.2 1106.8C1993.5 1112.3 1993.0 1125.9 1994.2 1130.7C1995.3 1135.4 2002.2 1150.2 2003.8 1154.0C2005.4 1157.8 2008.6 1165.6 2009.8 1168.9C2011.0 1172.2 2014.0 1182.7 2015.7 1186.9C2017.5 1191.0 2025.9 1206.6 2027.7 1210.7C2029.5 1214.9 2032.4 1225.9 2033.7 1228.7C2035.0 1231.5 2039.3 1236.3 2040.6 1238.6C2041.9 1241.0 2044.6 1250.0 2046.6 1252.1C2048.6 1254.1 2058.2 1258.2 2060.5 1259.5C2062.9 1260.8 2067.5 1265.4 2070.0 1265.0C2072.5 1264.6 2083.1 1257.3 2085.4 1255.5C2087.8 1253.8 2091.7 1249.2 2093.4 1247.6C2095.1 1246.0 2101.3 1242.0 2102.4 1239.6C2103.5 1237.2 2103.1 1227.3 2104.4 1223.7C2105.6 1220.1 2113.5 1208.1 2115.3 1203.8C2117.1 1199.5 2120.5 1185.6 2122.3 1180.9C2124.1 1176.2 2131.0 1164.8 2133.2 1157.0C2135.4 1149.2 2142.7 1111.4 2144.5 1102.8C2146.2 1094.2 2148.8 1077.3 2150.4 1070.9C2152.0 1064.6 2158.7 1045.3 2160.4 1039.1C2162.1 1032.9 2166.2 1015.2 2167.4 1009.2C2168.6 1003.2 2171.2 985.9 2172.3 979.4C2173.4 972.8 2176.9 950.3 2178.3 943.5C2179.7 936.8 2184.9 917.2 2186.3 911.7C2187.7 906.1 2191.1 892.6 2192.2 887.8C2193.3 883.0 2196.1 868.7 2197.2 863.9C2198.3 859.1 2201.8 846.3 2203.2 840.0C2204.6 833.7 2210.0 807.6 2211.3 801.3C2212.6 795.1 2215.3 782.4 2216.3 777.7C2217.4 773.0 2220.4 759.2 2221.4 754.6C2222.4 750.1 2225.4 736.6 2226.5 732.1C2227.5 727.7 2230.8 713.3 2231.5 710.4C2232.2 707.4 2233.1 703.7 2233.3 703.0" stroke="#00c800" stroke-width="7.8"/>
<path d="M232.2 898.8C233.1 895.0 236.2 884.0 237.7 876.3C239.1 868.5 239.1 860.2 240.9 852.2C242.7 844.1 246.4 835.8 248.3 828.0C250.2 820.3 250.7 813.5 252.1 805.5C253.6 797.6 254.6 788.5 257.0 780.5C259.4 772.4 264.2 763.6 266.6 757.3C269.0 751.1 269.7 746.6 271.4 742.9C273.2 739.1 273.9 738.9 277.2 734.8C280.5 730.7 287.5 721.1 291.4 718.1C295.2 715.1 297.9 716.7 300.3 716.6C302.7 716.5 303.8 717.0 305.5 717.7C307.3 718.5 309.0 719.7 310.7 721.2C312.5 722.7 314.2 724.6 316.0 726.8C317.7 729.1 319.4 731.7 321.2 734.7C322.9 737.6 324.7 740.9 326.4 744.6C328.1 748.2 329.9 752.1 331.6 756.4C333.4 760.6 335.1 765.2 336.9 770.0C338.6 774.8 340.3 780.0 342.1 785.3C343.8 790.6 345.6 796.2 347.3 802.0C349.0 807.7 350.8 813.7 352.5 819.9C354.3 826.0 356.0 832.3 357.7 838.8C359.5 845.2 361.2 851.8 363.0 858.4C364.7 865.0 366.4 871.8 368.2 878.6C369.9 885.3 371.1 889.5 373.4 899.0C375.7 908.5 378.9 923.4 381.7 935.5C384.5 947.6 387.3 959.7 390.0 971.6C392.8 983.5 395.6 995.2 398.3 1006.7C401.1 1018.2 403.9 1029.6 406.7 1040.5C409.4 1051.5 412.2 1062.2 415.0 1072.5C417.7 1082.9 420.5 1092.9 423.3 1102.4C426.1 1111.9 428.8 1121.0 431.6 1129.7C434.4 1138.3 437.1 1146.4 439.9 1154.0C442.7 1161.6 445.5 1168.7 448.2 1175.2C451.0 1181.7 453.8 1187.6 456.5 1192.9C459.3 1198.2 462.1 1202.9 464.9 1206.9C467.6 1210.9 470.4 1214.3 473.2 1217.0C475.9 1219.7 478.7 1221.8 481.5 1223.1C484.3 1224.5 487.1 1225.2 489.8 1225.2C492.5 1225.2 495.0 1224.5 497.6 1223.1C500.2 1221.8 502.8 1219.7 505.4 1217.0C508.0 1214.3 510.6 1210.9 513.2 1206.9C515.8 1202.9 518.4 1198.2 521.0 1192.9C523.6 1187.6 526.2 1181.7 528.8 1175.2C531.4 1168.7 534.0 1161.6 536.6 1154.0C539.2 1146.4 541.8 1138.3 544.5 1129.7C547.1 1121.0 549.7 1111.9 552.3 1102.4C554.9 1092.9 557.5 1082.9 560.1 1072.5C562.7 1062.2 565.3 1051.5 567.9 1040.5C570.5 1029.6 573.1 1018.2 575.7 1006.7C578.3 995.2 580.9 983.5 583.5 971.6C586.1 959.7 588.7 947.6 591.3 935.5C593.9 923.4 596.3 912.4 599.1 899.0C601.9 885.6 605.0 869.8 608.0 855.3C610.9 840.8 613.9 826.4 616.8 812.2C619.8 798.0 622.7 783.9 625.7 770.1C628.6 756.4 631.6 742.8 634.5 729.7C637.5 716.6 640.4 703.7 643.4 691.4C646.3 679.1 649.3 667.1 652.2 655.7C655.2 644.3 658.1 633.4 661.1 623.1C664.1 612.8 667.0 603.0 670.0 593.9C672.9 584.8 675.9 576.4 678.8 568.6C681.8 560.9 684.7 553.8 687.7 547.4C690.6 541.1 693.6 535.5 696.5 530.7C699.5 525.9 702.4 521.8 705.4 518.6C708.3 515.3 711.3 512.9 714.2 511.3C717.2 509.6 720.2 508.8 723.1 508.8C726.0 508.8 728.9 509.6 731.8 511.3C734.7 512.9 737.7 515.3 740.6 518.6C743.5 521.8 746.4 525.9 749.3 530.7C752.2 535.5 755.1 541.1 758.0 547.4C761.0 553.8 763.9 560.9 766.8 568.6C769.7 576.4 772.6 584.8 775.5 593.9C778.4 603.0 781.3 612.8 784.2 623.1C787.2 633.4 790.1 644.3 793.0 655.7C795.9 667.1 798.8 679.1 801.7 691.4C804.6 703.7 807.5 716.6 810.5 729.7C813.4 742.8 816.3 756.4 819.2 770.1C822.1 783.9 825.0 798.0 827.9 812.2C830.8 826.4 833.8 840.8 836.7 855.3C839.6 869.8 842.5 884.1 845.4 899.0C848.3 913.9 851.3 929.8 854.3 945.0C857.3 960.2 860.2 975.5 863.2 990.4C866.2 1005.4 869.2 1020.2 872.1 1034.7C875.1 1049.1 878.1 1063.4 881.0 1077.2C884.0 1091.1 887.0 1104.6 889.9 1117.6C892.9 1130.5 895.9 1143.1 898.8 1155.1C901.8 1167.1 904.8 1178.6 907.8 1189.5C910.7 1200.3 913.7 1210.6 916.7 1220.2C919.6 1229.7 922.6 1238.7 925.6 1246.8C928.5 1255.0 931.5 1262.5 934.5 1269.1C937.4 1275.8 940.4 1281.7 943.4 1286.7C946.3 1291.8 949.3 1296.1 952.3 1299.5C955.3 1302.9 958.2 1305.5 961.2 1307.2C964.2 1308.9 967.2 1309.8 970.1 1309.8C973.0 1309.8 975.7 1308.9 978.6 1307.2C981.4 1305.5 984.2 1302.9 987.0 1299.5C989.9 1296.1 992.7 1291.8 995.5 1286.7C998.3 1281.7 1001.1 1275.8 1004.0 1269.1C1006.8 1262.5 1009.6 1255.0 1012.4 1246.8C1015.2 1238.7 1018.1 1229.7 1020.9 1220.2C1023.7 1210.6 1026.5 1200.3 1029.3 1189.5C1032.2 1178.6 1035.0 1167.1 1037.8 1155.1C1040.6 1143.1 1043.5 1130.5 1046.3 1117.6C1049.1 1104.6 1051.9 1091.1 1054.7 1077.2C1057.6 1063.4 1060.4 1049.1 1063.2 1034.7C1066.0 1020.2 1068.8 1005.4 1071.7 990.4C1074.5 975.5 1077.3 960.2 1080.1 945.0C1083.0 929.8 1085.8 914.2 1088.6 899.0C1091.4 883.8 1094.3 868.9 1097.2 854.0C1100.1 839.1 1103.0 824.1 1105.8 809.5C1108.7 794.9 1111.6 780.3 1114.4 766.2C1117.3 752.0 1120.2 738.0 1123.1 724.5C1125.9 711.0 1128.8 697.7 1131.7 685.0C1134.5 672.3 1137.4 660.0 1140.3 648.2C1143.2 636.5 1146.0 625.2 1148.9 614.6C1151.8 604.0 1154.6 593.9 1157.5 584.5C1160.4 575.2 1163.3 566.4 1166.1 558.4C1169.0 550.5 1171.9 543.1 1174.7 536.6C1177.6 530.1 1180.5 524.3 1183.4 519.4C1186.2 514.4 1189.1 510.2 1192.0 506.9C1194.8 503.5 1197.7 501.0 1200.6 499.3C1203.5 497.6 1206.3 496.8 1209.2 496.8C1212.1 496.8 1215.2 497.6 1218.2 499.3C1221.2 501.0 1224.2 503.5 1227.2 506.9C1230.2 510.2 1233.1 514.4 1236.1 519.4C1239.1 524.3 1242.1 530.1 1245.1 536.6C1248.1 543.1 1251.1 550.5 1254.1 558.4C1257.1 566.4 1260.1 575.2 1263.1 584.5C1266.1 593.9 1269.1 604.0 1272.1 614.6C1275.0 625.2 1278.0 636.5 1281.0 648.2C1284.0 660.0 1287.0 672.3 1290.0 685.0C1293.0 697.7 1296.0 711.0 1299.0 724.5C1302.0 738.0 1305.0 752.0 1308.0 766.2C1311.0 780.3 1314.0 794.9 1316.9 809.5C1319.9 824.1 1322.9 839.1 1325.9 854.0C1328.9 868.9 1332.0 883.8 1334.9 899.0C1337.8 914.2 1340.7 929.9 1343.5 945.2C1346.4 960.4 1349.3 975.7 1352.2 990.7C1355.0 1005.7 1357.9 1020.6 1360.8 1035.1C1363.7 1049.7 1366.6 1064.0 1369.4 1077.8C1372.3 1091.7 1375.2 1105.3 1378.1 1118.3C1381.0 1131.3 1383.8 1144.0 1386.7 1156.0C1389.6 1168.0 1392.5 1179.6 1395.3 1190.5C1398.2 1201.3 1401.1 1211.7 1404.0 1221.3C1406.9 1230.9 1409.7 1239.8 1412.6 1248.0C1415.5 1256.2 1418.4 1263.7 1421.3 1270.4C1424.1 1277.1 1427.0 1283.0 1429.9 1288.1C1432.8 1293.1 1435.7 1297.4 1438.5 1300.9C1441.4 1304.3 1444.3 1306.9 1447.2 1308.6C1450.0 1310.3 1452.9 1311.2 1455.8 1311.2C1458.7 1311.2 1461.6 1310.3 1464.4 1308.6C1467.3 1306.9 1470.2 1304.3 1473.1 1300.9C1476.0 1297.4 1478.8 1293.1 1481.7 1288.1C1484.6 1283.0 1487.5 1277.1 1490.4 1270.4C1493.3 1263.7 1496.1 1256.2 1499.0 1248.0C1501.9 1239.8 1504.8 1230.9 1507.7 1221.3C1510.5 1211.7 1513.4 1201.3 1516.3 1190.5C1519.2 1179.6 1522.1 1168.0 1524.9 1156.0C1527.8 1144.0 1530.7 1131.3 1533.6 1118.3C1536.5 1105.3 1539.3 1091.7 1542.2 1077.8C1545.1 1064.0 1548.0 1049.7 1550.9 1035.1C1553.8 1020.6 1556.6 1005.7 1559.5 990.7C1562.4 975.7 1565.3 960.4 1568.2 945.2C1571.0 929.9 1573.9 914.2 1576.8 899.0C1579.7 883.8 1582.5 868.9 1585.4 853.9C1588.3 839.0 1591.1 824.1 1594.0 809.4C1596.8 794.8 1599.7 780.2 1602.6 766.1C1605.4 751.9 1608.3 737.9 1611.2 724.4C1614.0 710.8 1616.9 697.6 1619.8 684.9C1622.6 672.1 1625.5 659.8 1628.4 648.0C1631.2 636.3 1634.1 625.0 1636.9 614.4C1639.8 603.8 1642.7 593.7 1645.5 584.3C1648.4 574.9 1651.3 566.2 1654.1 558.2C1657.0 550.2 1659.9 542.9 1662.7 536.4C1665.6 529.8 1668.5 524.0 1671.3 519.1C1674.2 514.1 1677.0 509.9 1679.9 506.6C1682.8 503.2 1685.6 500.7 1688.5 499.0C1691.4 497.3 1694.2 496.5 1697.1 496.5C1700.0 496.5 1703.0 497.3 1706.0 499.0C1708.9 500.7 1711.9 503.2 1714.8 506.6C1717.8 509.9 1720.8 514.1 1723.7 519.1C1726.7 524.0 1729.6 529.8 1732.6 536.4C1735.5 542.9 1738.5 550.2 1741.5 558.2C1744.4 566.2 1747.4 574.9 1750.3 584.3C1753.3 593.7 1756.2 603.8 1759.2 614.4C1762.2 625.0 1765.1 636.3 1768.1 648.0C1771.0 659.8 1774.0 672.1 1776.9 684.9C1779.9 697.6 1782.9 710.8 1785.8 724.4C1788.8 737.9 1791.7 751.9 1794.7 766.1C1797.6 780.2 1800.6 794.8 1803.6 809.4C1806.5 824.1 1809.5 839.0 1812.4 853.9C1815.4 868.9 1818.3 883.8 1821.3 899.0C1824.3 914.2 1827.2 929.9 1830.1 945.1C1833.1 960.4 1836.0 975.7 1839.0 990.7C1842.0 1005.7 1844.9 1020.6 1847.8 1035.1C1850.8 1049.6 1853.8 1063.9 1856.7 1077.8C1859.7 1091.7 1862.6 1105.2 1865.5 1118.3C1868.5 1131.3 1871.5 1143.9 1874.4 1155.9C1877.4 1168.0 1880.3 1179.5 1883.2 1190.4C1886.2 1201.3 1889.1 1211.6 1892.1 1221.2C1895.0 1230.8 1898.0 1239.8 1901.0 1247.9C1903.9 1256.1 1906.8 1263.6 1909.8 1270.3C1912.8 1277.0 1915.7 1282.9 1918.7 1288.0C1921.6 1293.1 1924.5 1297.3 1927.5 1300.8C1930.5 1304.2 1933.4 1306.8 1936.4 1308.5C1939.3 1310.2 1942.3 1311.1 1945.2 1311.1C1948.1 1311.1 1950.8 1310.2 1953.6 1308.5C1956.4 1306.8 1959.2 1304.2 1962.0 1300.8C1964.8 1297.3 1967.6 1293.1 1970.4 1288.0C1973.2 1282.9 1976.1 1277.0 1978.9 1270.3C1981.7 1263.6 1984.5 1256.1 1987.3 1247.9C1990.1 1239.8 1992.9 1230.8 1995.7 1221.2C1998.5 1211.6 2001.3 1201.3 2004.1 1190.4C2006.9 1179.5 2009.7 1168.0 2012.5 1155.9C2015.3 1143.9 2018.1 1131.3 2020.9 1118.3C2023.7 1105.2 2026.5 1091.7 2029.3 1077.8C2032.1 1063.9 2035.0 1049.6 2037.8 1035.1C2040.6 1020.6 2043.4 1005.7 2046.2 990.7C2049.0 975.7 2051.8 960.4 2054.6 945.1C2057.4 929.9 2060.2 914.2 2063.0 899.0C2065.8 883.8 2068.8 868.9 2071.6 853.9C2074.5 839.0 2077.4 824.1 2080.3 809.4C2083.2 794.8 2086.0 780.2 2088.9 766.1C2091.8 751.9 2094.7 737.9 2097.5 724.4C2100.4 710.8 2103.3 697.6 2106.2 684.9C2109.1 672.1 2111.9 659.8 2114.8 648.0C2117.7 636.3 2120.6 625.0 2123.4 614.4C2126.3 603.8 2129.2 593.7 2132.1 584.3C2135.0 574.9 2137.8 566.2 2140.7 558.2C2143.6 550.2 2146.5 542.9 2149.4 536.4C2152.2 529.8 2155.1 524.0 2158.0 519.1C2160.9 514.1 2163.8 509.9 2166.6 506.6C2169.5 503.2 2172.4 500.7 2175.3 499.0C2178.1 497.3 2181.0 496.5 2183.9 496.5C2186.8 496.5 2189.8 497.3 2192.8 499.0C2195.8 500.7 2198.7 503.2 2201.7 506.6C2204.7 509.9 2207.6 514.1 2210.6 519.1C2213.6 524.0 2216.5 529.8 2219.5 536.4C2222.5 542.9 2226.1 552.2 2228.4 558.2C2230.7 564.2 2232.5 570.2 2233.3 572.6" stroke="#0000ff" stroke-width="8.0" stroke-dasharray="21.6 25.74 0.01 25.74" stroke-dashoffset="1.4"/>
</g>
<path d="M2002.4 1185.6 L2011.4 1202.8 L1996.2 1202.8 Z" fill="none" stroke="#a89c08" stroke-width="2.8" stroke-linejoin="miter"/>
<g font-size="66">
<text transform="translate(231.00 1621.70) scale(1 1.035)" text-anchor="middle">0.0</text>
<text transform="translate(452.00 1621.70) scale(1 1.035)" text-anchor="middle">0.3</text>
<text transform="translate(672.80 1621.70) scale(1 1.035)" text-anchor="middle">0.6</text>
<text transform="translate(897.00 1621.70) scale(1 1.035)" text-anchor="middle">0.9</text>
<text transform="translate(1123.00 1621.70) scale(1 1.035)" text-anchor="middle">1.2</text>
<text transform="translate(1341.50 1621.70) scale(1 1.035)" text-anchor="middle">1.5</text>
<text transform="translate(1567.00 1621.70) scale(1 1.035)" text-anchor="middle">1.8</text>
<text transform="translate(1786.50 1621.70) scale(1 1.035)" text-anchor="middle">2.1</text>
<text transform="translate(2007.00 1621.70) scale(1 1.035)" text-anchor="middle">2.4</text>
<text transform="translate(2231.50 1621.70) scale(1 1.035)" text-anchor="middle">2.7</text>
<text transform="translate(204.20 272.70) scale(1 1.035)" text-anchor="end">70</text>
<text transform="translate(203.90 593.60) scale(1 1.035)" text-anchor="end">35</text>
<text transform="translate(204.20 920.40) scale(1 1.035)" text-anchor="end">0</text>
<text transform="translate(204.30 1241.60) scale(1 1.035)" text-anchor="end">−35</text>
<text transform="translate(204.90 1566.50) scale(1 1.035)" text-anchor="end">−70</text>
</g>
<text x="1235" y="1707.5" font-size="76.8" text-anchor="middle">Time (<tspan font-style="italic">μ</tspan>s)</text>
<text transform="translate(89.3 1096) rotate(-90)" font-size="76.8"><tspan font-style="italic">v</tspan><tspan font-style="italic" font-size="52" dy="9.6">in</tspan><tspan dy="-9.6" dx="1.5" font-size="70">,</tspan><tspan font-style="italic" dx="5.5">v</tspan><tspan font-style="italic" font-size="52" dy="9.6">out</tspan><tspan dy="-9.6" dx="2.3"> (mV)</tspan></text>
<g stroke="#000" fill="none" stroke-width="4">
<rect x="725.2" y="57" width="949" height="172.6"/>
<line x1="725.2" y1="141.8" x2="1674.2" y2="141.8"/>
<line x1="885.3" y1="57" x2="888.3" y2="229.6" stroke-width="3.4"/>
<line x1="1151.2" y1="141.8" x2="1151.2" y2="229.6" stroke-width="3.4"/>
<line x1="1411" y1="141.8" x2="1411" y2="229.6" stroke-width="3.4"/>
</g>
<g fill="none" stroke-linecap="round">
<line x1="748.5" y1="187.7" x2="861" y2="187.7" stroke="#000" stroke-width="6.8" stroke-dasharray="14.7 18.1"/>
<line x1="911.2" y1="187.7" x2="1023.5" y2="187.7" stroke="#0000ff" stroke-width="6.5" stroke-dasharray="14.5 17.2 0.01 16.9"/>
<line x1="1174.3" y1="187.7" x2="1290.2" y2="187.7" stroke="#00c800" stroke-width="5.6"/>
<line x1="1434.2" y1="187.7" x2="1552" y2="187.7" stroke="#ff0000" stroke-width="6.3" stroke-dasharray="5 11.1"/>
</g>
<g font-size="64">
<text x="1046" y="205.6">HP</text>
<text x="1309.5" y="205.6">BP</text>
<text x="1570" y="205.6">LP</text>
<text x="774" y="113.5" font-style="italic">v<tspan font-size="43" dy="8.6">in</tspan></text>
<text x="1239" y="113.5" font-style="italic">v<tspan font-size="43" dy="8.6">out</tspan></text>
</g>
</svg></body></html>
